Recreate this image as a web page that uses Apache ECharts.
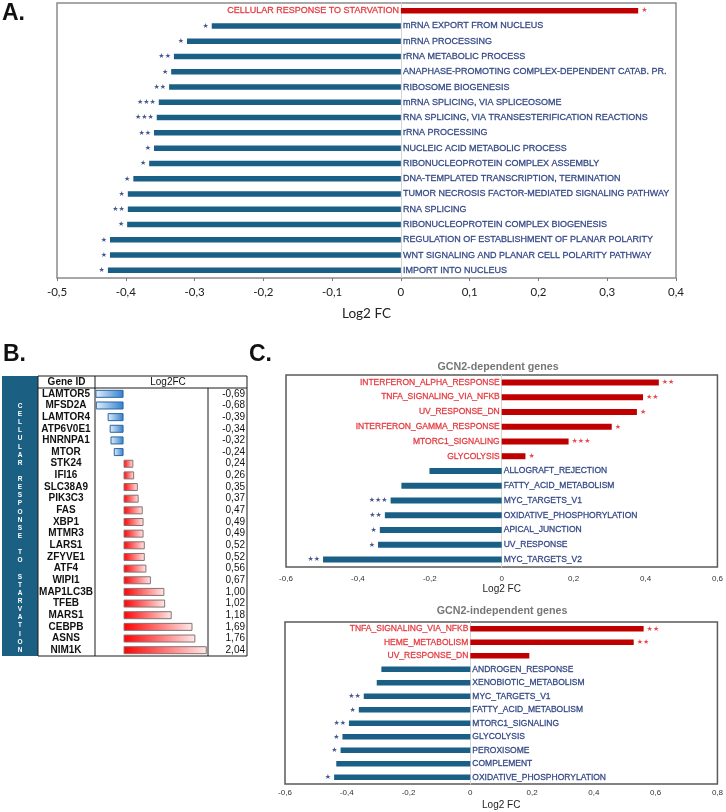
<!DOCTYPE html>
<html>
<head>
<meta charset="utf-8">
<script src="https://cdn.jsdelivr.net/npm/echarts@6/dist/echarts.min.js"></script>
<style>
html, body { margin: 0; padding: 0; background: #fff; }
#main { width: 726px; height: 812px; }
</style>
</head>
<body>
<div id="main"></div>
<script>
// ---- data: panel A (GO terms) ----
var aTerms = ['CELLULAR RESPONSE TO STARVATION', 'mRNA EXPORT FROM NUCLEUS', 'mRNA PROCESSING', 'rRNA METABOLIC PROCESS',
  'ANAPHASE-PROMOTING COMPLEX-DEPENDENT CATAB. PR.', 'RIBOSOME BIOGENESIS', 'mRNA SPLICING, VIA SPLICEOSOME',
  'RNA SPLICING, VIA TRANSESTERIFICATION REACTIONS', 'rRNA PROCESSING', 'NUCLEIC ACID METABOLIC PROCESS',
  'RIBONUCLEOPROTEIN COMPLEX ASSEMBLY', 'DNA-TEMPLATED TRANSCRIPTION, TERMINATION',
  'TUMOR NECROSIS FACTOR-MEDIATED SIGNALING PATHWAY', 'RNA SPLICING', 'RIBONUCLEOPROTEIN COMPLEX BIOGENESIS',
  'REGULATION OF ESTABLISHMENT OF PLANAR POLARITY', 'WNT SIGNALING AND PLANAR CELL POLARITY PATHWAY', 'IMPORT INTO NUCLEUS'];
var aFC = [0.345, -0.275, -0.311, -0.330, -0.334, -0.337, -0.352, -0.355, -0.359, -0.359, -0.366, -0.389, -0.397, -0.397, -0.398, -0.423, -0.423, -0.426];
var aStars = [1, 1, 1, 2, 1, 2, 3, 3, 2, 1, 1, 1, 1, 2, 1, 1, 1, 1];

// ---- data: panel B (genes) ----
var bGenes = ['LAMTOR5', 'MFSD2A', 'LAMTOR4', 'ATP6V0E1', 'HNRNPA1', 'MTOR', 'STK24', 'IFI16', 'SLC38A9', 'PIK3C3', 'FAS', 'XBP1',
  'MTMR3', 'LARS1', 'ZFYVE1', 'ATF4', 'WIPI1', 'MAP1LC3B', 'TFEB', 'MARS1', 'CEBPB', 'ASNS', 'NIM1K'];
var bFC = [-0.69, -0.68, -0.39, -0.34, -0.32, -0.24, 0.24, 0.26, 0.35, 0.37, 0.47, 0.49, 0.49, 0.52, 0.52, 0.56, 0.67, 1.00, 1.02, 1.18, 1.69, 1.76, 2.04];

// ---- data: panel C (hallmarks) ----
var cDepTerms = ['INTERFERON_ALPHA_RESPONSE', 'TNFA_SIGNALING_VIA_NFKB', 'UV_RESPONSE_DN', 'INTERFERON_GAMMA_RESPONSE', 'MTORC1_SIGNALING',
  'GLYCOLYSIS', 'ALLOGRAFT_REJECTION', 'FATTY_ACID_METABOLISM', 'MYC_TARGETS_V1', 'OXIDATIVE_PHOSPHORYLATION', 'APICAL_JUNCTION',
  'UV_RESPONSE', 'MYC_TARGETS_V2'];
var cDepFC = [0.437, 0.393, 0.376, 0.306, 0.186, 0.066, -0.201, -0.279, -0.309, -0.325, -0.339, -0.344, -0.497];
var cDepStars = [2, 2, 1, 1, 3, 1, 0, 0, 3, 2, 1, 1, 2];

var cIndTerms = ['TNFA_SIGNALING_VIA_NFKB', 'HEME_METABOLISM', 'UV_RESPONSE_DN', 'ANDROGEN_RESPONSE', 'XENOBIOTIC_METABOLISM',
  'MYC_TARGETS_V1', 'FATTY_ACID_METABOLISM', 'MTORC1_SIGNALING', 'GLYCOLYSIS', 'PEROXISOME', 'COMPLEMENT', 'OXIDATIVE_PHOSPHORYLATION'];
var cIndFC = [0.561, 0.529, 0.191, -0.288, -0.303, -0.345, -0.361, -0.393, -0.414, -0.420, -0.434, -0.441];
var cIndStars = [2, 2, 0, 0, 0, 2, 1, 2, 1, 1, 0, 1];

var NAVY = '#142c73', RED_TXT = '#e01b22', BLUE_BAR = '#1a5f86', RED_BAR = '#c00000';
var ARIAL = '"Liberation Sans", Arial, sans-serif';

function dec(v, d) { return Math.abs(v) < 1e-9 ? '0' : v.toFixed(d).replace('.', ','); }
function starText(n) { return n ? new Array(n + 1).join('\u2605') : ''; }

// bars + term labels at zero + significance stars, for one GO/hallmark panel
function goSeries(ax, terms, fc, nStars, barW, fs) {
  return [
    {
      type: 'bar', xAxisIndex: ax.x, yAxisIndex: ax.y, barWidth: barW, silent: true,
      data: fc.map(function (v) { return { value: v, itemStyle: { color: v > 0 ? RED_BAR : BLUE_BAR } }; })
    },
    {
      type: 'scatter', xAxisIndex: ax.x, yAxisIndex: ax.y, symbolSize: 0, silent: true,
      data: terms.map(function (t, i) {
        var c = fc[i] > 0 ? RED_TXT : NAVY;
        return { value: [0, i], label: { position: fc[i] > 0 ? 'left' : 'right', color: c, textBorderColor: c } };
      }),
      label: { show: true, distance: 2, fontSize: fs, fontFamily: ARIAL, textBorderWidth: 0.3,
        formatter: function (p) { return terms[p.dataIndex]; } }
    },
    {
      type: 'scatter', xAxisIndex: ax.x, yAxisIndex: ax.y, symbolSize: 0, silent: true,
      data: fc.map(function (v, i) {
        return { value: [v, i], label: { position: v > 0 ? 'right' : 'left', color: v > 0 ? RED_TXT : NAVY } };
      }),
      label: { show: true, distance: 3, fontSize: 7, fontFamily: 'DejaVu Sans', formatter: function (p) { return starText(nStars[p.dataIndex]); } }
    }
  ];
}

var blueGrad = new echarts.graphic.LinearGradient(0, 0, 1, 0, [{ offset: 0, color: '#e4eff9' }, { offset: 1, color: '#2f80cf' }]);
var redGrad = new echarts.graphic.LinearGradient(0, 0, 1, 0, [{ offset: 0, color: '#ff0000' }, { offset: 1, color: '#ffeaea' }]);

var zeroLine = { show: true, onZero: true, lineStyle: { color: '#d4d4d4', width: 1 } };
var cAxisLabel = { fontSize: 8, fontFamily: ARIAL, color: '#333', formatter: function (v) { return dec(v, 1); } };

// decorations for the table in panel B
var tbl = { x0: 38, x1: 95, x2: 208, x3: 247, y0: 376, y1: 388, y2: 656 };
function hline(y, xa, xb) { return { type: 'line', shape: { x1: xa, y1: y, x2: xb, y2: y }, style: { stroke: '#1a1a1a', lineWidth: 1 }, silent: true }; }
function vline(x, ya, yb) { return { type: 'line', shape: { x1: x, y1: ya, x2: x, y2: yb }, style: { stroke: '#1a1a1a', lineWidth: 1 }, silent: true }; }

var sideText = 'CELLULAR RESPONSE TO STARVATION'.split('').join('\n');

var chart = echarts.init(document.getElementById('main'));
chart.setOption({
  animation: false,
  grid: [
    { left: 57, top: 3, width: 619, height: 275, show: true, borderColor: '#8a8a8a', borderWidth: 1.5 },
    { left: 95, top: 388, width: 113, height: 268 },
    { left: 286, top: 375, width: 434.5, height: 192, show: true, borderColor: '#5a5a5a', borderWidth: 1.5 },
    { left: 285, top: 622, width: 435.5, height: 162, show: true, borderColor: '#5a5a5a', borderWidth: 1.5 }
  ],
  xAxis: [
    {
      gridIndex: 0, type: 'value', min: -0.5, max: 0.4, interval: 0.1,
      axisLine: { onZero: false, lineStyle: { color: '#7a7a7a', width: 1.5 } },
      axisTick: { show: true, length: 3, lineStyle: { color: '#7a7a7a' } },
      splitLine: { show: false },
      axisLabel: { fontFamily: 'Lato', fontSize: 11.5, color: '#222', margin: 8, formatter: function (v) { return dec(v, 1); } },
      name: 'Log2 FC', nameLocation: 'middle', nameGap: 29,
      nameTextStyle: { fontFamily: 'Lato', fontSize: 13.5, color: '#222' }
    },
    { gridIndex: 1, type: 'value', min: -0.70, max: 2.07, show: false },
    {
      gridIndex: 2, type: 'value', min: -0.6, max: 0.6, interval: 0.2,
      axisLine: { show: false }, axisTick: { show: false }, splitLine: { show: false },
      axisLabel: Object.assign({ margin: 8 }, cAxisLabel),
      name: 'Log2 FC', nameLocation: 'middle', nameGap: 17,
      nameTextStyle: { fontFamily: ARIAL, fontSize: 10, color: '#222' }
    },
    {
      gridIndex: 3, type: 'value', min: -0.6, max: 0.8, interval: 0.2,
      axisLine: { show: false }, axisTick: { show: false }, splitLine: { show: false },
      axisLabel: Object.assign({ margin: 5 }, cAxisLabel),
      name: 'Log2 FC', nameLocation: 'middle', nameGap: 16,
      nameTextStyle: { fontFamily: ARIAL, fontSize: 10, color: '#222' }
    }
  ],
  yAxis: [
    { gridIndex: 0, type: 'category', inverse: true, data: aTerms, axisLine: zeroLine, axisTick: { show: false }, axisLabel: { show: false } },
    {
      gridIndex: 1, type: 'category', inverse: true, data: bGenes,
      axisLine: { show: false }, axisTick: { show: false },
      axisLabel: { interval: 0, align: 'center', margin: 29, fontSize: 10, fontWeight: 'bold', fontFamily: ARIAL, color: '#111' }
    },
    {
      gridIndex: 1, type: 'category', inverse: true, position: 'right', data: bFC.map(function (v) { return dec(v, 2); }),
      axisLine: { show: false }, axisTick: { show: false },
      axisLabel: { interval: 0, align: 'right', margin: 37, fontSize: 10, fontFamily: ARIAL, color: '#111' }
    },
    { gridIndex: 2, type: 'category', inverse: true, data: cDepTerms, axisLine: zeroLine, axisTick: { show: false }, axisLabel: { show: false } },
    { gridIndex: 3, type: 'category', inverse: true, data: cIndTerms, axisLine: zeroLine, axisTick: { show: false }, axisLabel: { show: false } }
  ],
  series: [].concat(
    goSeries({ x: 0, y: 0 }, aTerms, aFC, aStars, 5.5, 9),
    [{
      type: 'bar', xAxisIndex: 1, yAxisIndex: 1, barWidth: 8, silent: true,
      data: bFC.map(function (v) {
        return { value: v, itemStyle: v < 0
          ? { color: blueGrad, borderColor: '#2c64a3', borderWidth: 1 }
          : { color: redGrad, borderColor: '#857373', borderWidth: 1 } };
      })
    }],
    goSeries({ x: 2, y: 3 }, cDepTerms, cDepFC, cDepStars, 6, 8.5),
    goSeries({ x: 3, y: 4 }, cIndTerms, cIndFC, cIndStars, 5.5, 8.5)
  ),
  graphic: [
    { type: 'text', x: 2, y: 2, style: { text: 'A.', fontSize: 23, fontWeight: 'bold', fontFamily: ARIAL, fill: '#111' } },
    { type: 'text', x: 3, y: 343, style: { text: 'B.', fontSize: 23, fontWeight: 'bold', fontFamily: ARIAL, fill: '#111' } },
    { type: 'text', x: 249, y: 343, style: { text: 'C.', fontSize: 23, fontWeight: 'bold', fontFamily: ARIAL, fill: '#111' } },
    { type: 'text', x: 498, y: 367, style: { text: 'GCN2-dependent genes', align: 'center', verticalAlign: 'middle', fontSize: 10.7, fontWeight: 'bold', fontFamily: ARIAL, fill: '#767676' } },
    { type: 'text', x: 502, y: 611, style: { text: 'GCN2-independent genes', align: 'center', verticalAlign: 'middle', fontSize: 10.7, fontWeight: 'bold', fontFamily: ARIAL, fill: '#767676' } },
    // panel B side band and table frame
    { type: 'rect', shape: { x: 2, y: tbl.y0, width: tbl.x0 - 2, height: tbl.y2 - tbl.y0 }, style: { fill: '#1b5f82' }, silent: true },
    { type: 'text', x: 20, y: 402, style: { text: sideText, align: 'center', verticalAlign: 'top', lineHeight: 8.13, fontSize: 6.5, fontWeight: 'bold', fontFamily: ARIAL, fill: '#ffffff' } },
    hline(tbl.y0, tbl.x0, tbl.x3), hline(tbl.y1, tbl.x0, tbl.x3), hline(tbl.y2, tbl.x0, tbl.x3),
    vline(tbl.x0, tbl.y0, tbl.y2), vline(tbl.x1, tbl.y0, tbl.y2), vline(tbl.x2, tbl.y1, tbl.y2), vline(tbl.x3, tbl.y0, tbl.y2),
    { type: 'text', x: (tbl.x0 + tbl.x1) / 2, y: 382.5, style: { text: 'Gene ID', align: 'center', verticalAlign: 'middle', fontSize: 10, fontWeight: 'bold', fontFamily: ARIAL, fill: '#111' } },
    { type: 'text', x: 168, y: 382.5, style: { text: 'Log2FC', align: 'center', verticalAlign: 'middle', fontSize: 10, fontFamily: ARIAL, fill: '#111' } }
  ]
});
</script>
</body>
</html>
